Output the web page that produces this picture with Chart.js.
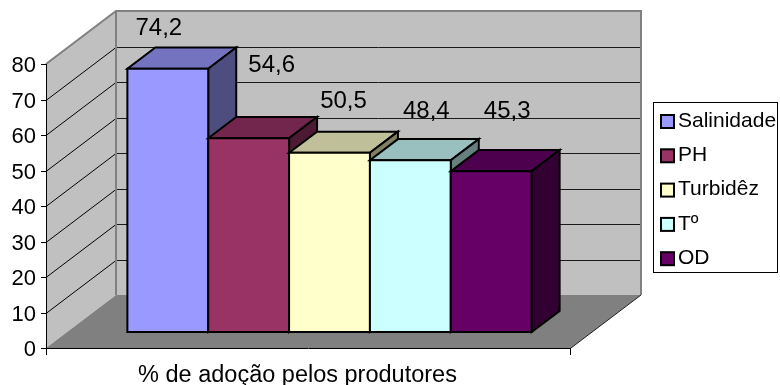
<!DOCTYPE html>
<html>
<head>
<meta charset="utf-8">
<script src="https://cdn.jsdelivr.net/npm/chart.js@4/dist/chart.umd.min.js"></script>
<style>
  html, body { margin: 0; padding: 0; background: #ffffff; }
  canvas { display: block; }
</style>
</head>
<body>
<canvas id="chart" width="780" height="385"></canvas>
<script>
// Data
const categories = ['% de adoção pelos produtores'];
const seriesNames = ['Salinidade', 'PH', 'Turbidêz', 'Tº', 'OD'];
const adoptionPct = [74.2, 54.6, 50.5, 48.4, 45.3];
const yTicks = [0, 10, 20, 30, 40, 50, 60, 70, 80];

// Styling
const seriesColors = ['#9999FF', '#993366', '#FFFFCC', '#CCFFFF', '#660066'];
const FONT = '"Liberation Sans", Arial, sans-serif';
const DEPTH = { x: 70, y: -53 };      // full depth of the floor in pixels
const BAR_FRONT = 0.3, BAR_BACK = 0.7; // bar position inside that depth
// hand placement of the value labels relative to each bar's top
const labelNudge = [[-9, -40], [23, -73], [14, -51], [16, -49], [16, -60]];

function shade(hex, f) {
  const n = parseInt(hex.slice(1), 16);
  const r = Math.round(((n >> 16) & 255) * f);
  const g = Math.round(((n >> 8) & 255) * f);
  const b = Math.round((n & 255) * f);
  return `rgb(${r},${g},${b})`;
}

function poly(ctx, pts, fill, stroke, lw) {
  ctx.beginPath();
  ctx.moveTo(pts[0][0], pts[0][1]);
  for (let i = 1; i < pts.length; i++) ctx.lineTo(pts[i][0], pts[i][1]);
  ctx.closePath();
  if (fill) { ctx.fillStyle = fill; ctx.fill(); }
  if (stroke) { ctx.strokeStyle = stroke; ctx.lineWidth = lw || 1; ctx.stroke(); }
}

function line(ctx, x1, y1, x2, y2, color, lw) {
  ctx.beginPath();
  ctx.moveTo(x1, y1);
  ctx.lineTo(x2, y2);
  ctx.strokeStyle = color;
  ctx.lineWidth = lw || 1;
  ctx.stroke();
}

// Draws the box scene (walls, floor, axes, 3D columns, labels, legend)
const scene3d = {
  id: 'scene3d',
  beforeDatasetsDraw(chart) {
    const { ctx, chartArea: a, scales } = chart;
    const ys = scales.y;
    const dx = DEPTH.x, dy = DEPTH.y;
    const y0 = ys.getPixelForValue(0);
    const yTop = ys.getPixelForValue(ys.max);
    ctx.save();
    ctx.lineJoin = 'miter';

    // side wall
    poly(ctx, [[a.left, y0], [a.left + dx, y0 + dy], [a.left + dx, yTop + dy], [a.left, yTop]], '#c0c0c0');
    // back wall
    poly(ctx, [[a.left + dx, yTop + dy], [a.right + dx, yTop + dy], [a.right + dx, y0 + dy], [a.left + dx, y0 + dy]], '#c0c0c0');
    // floor
    poly(ctx, [[a.left, y0], [a.right, y0], [a.right + dx, y0 + dy], [a.left + dx, y0 + dy]], '#808080');

    // gridlines on the walls
    yTicks.forEach(t => {
      if (t === 0 || t === ys.max) return;
      const yy = Math.round(ys.getPixelForValue(t)) + 0.5;
      line(ctx, a.left, yy, a.left + dx, yy + dy, '#000', 1);
      line(ctx, a.left + dx, yy + dy, a.right + dx, yy + dy, '#1a1a1a', 1);
    });

    // wall outlines
    ctx.strokeStyle = '#808080';
    ctx.lineWidth = 2;
    ctx.beginPath();
    ctx.moveTo(a.left, yTop);
    ctx.lineTo(a.left + dx, yTop + dy);
    ctx.lineTo(a.right + dx, yTop + dy);
    ctx.lineTo(a.right + dx, y0 + dy);
    ctx.moveTo(a.left + dx, yTop + dy);
    ctx.lineTo(a.left + dx, y0 + dy);
    ctx.stroke();
    line(ctx, a.right, y0, a.right + dx, y0 + dy, '#202020', 1);

    // axes
    line(ctx, a.left + 0.5, yTop, a.left + 0.5, y0 + 0.5, '#000', 1);
    line(ctx, a.left, y0 + 0.5, a.right, y0 + 0.5, '#000', 1);
    line(ctx, a.right - 0.5, y0, a.right - 0.5, y0 + 7, '#000', 1);
    line(ctx, a.left + 0.5, y0, a.left + 0.5, y0 + 7, '#000', 1);
    ctx.font = `22px ${FONT}`;
    ctx.fillStyle = '#000';
    ctx.textAlign = 'right';
    ctx.textBaseline = 'middle';
    yTicks.forEach(t => {
      const yy = Math.round(ys.getPixelForValue(t)) + 0.5;
      line(ctx, a.left - 5, yy, a.left, yy, '#000', 1);
      ctx.fillText(String(t), a.left - 10, yy + 1);
    });

    // 3D columns
    const fx = BAR_FRONT * dx, fy = BAR_FRONT * dy;
    const bx = (BAR_BACK - BAR_FRONT) * dx, by = (BAR_BACK - BAR_FRONT) * dy;
    const tops = [];
    chart.data.datasets.forEach((ds, i) => {
      const el = chart.getDatasetMeta(i).data[0];
      const p = el.getProps(['x', 'y', 'base', 'width'], true);
      const L = p.x - p.width / 2 + fx, R = p.x + p.width / 2 + fx;
      const T = p.y + fy, B = p.base + fy;
      const col = seriesColors[i];
      poly(ctx, [[L, T], [R, T], [R + bx, T + by], [L + bx, T + by]], shade(col, 0.75), '#000', 2);
      poly(ctx, [[R, T], [R + bx, T + by], [R + bx, B + by], [R, B]], shade(col, 0.5), '#000', 2);
      poly(ctx, [[L, T], [R, T], [R, B], [L, B]], col, '#000', 2);
      tops.push([(L + R) / 2, T]);
    });

    // value labels
    ctx.font = `24px ${FONT}`;
    ctx.textAlign = 'center';
    ctx.textBaseline = 'middle';
    ctx.fillStyle = '#000';
    adoptionPct.forEach((v, i) => {
      const [cx, ty] = tops[i];
      const txt = v.toFixed(1).replace('.', ',');
      ctx.fillText(txt, cx + labelNudge[i][0], ty + labelNudge[i][1]);
    });

    // category title under the axis
    ctx.font = `23.5px ${FONT}`;
    ctx.textAlign = 'center';
    ctx.textBaseline = 'alphabetic';
    ctx.fillText(categories[0], (a.left + a.right) / 2 - 11, y0 + 34);

    // legend
    const lg = { x: 653, y: 102, w: 124, h: 170, row: 34.3, first: 121 };
    ctx.fillStyle = '#fff';
    ctx.fillRect(lg.x, lg.y, lg.w, lg.h);
    ctx.strokeStyle = '#000';
    ctx.lineWidth = 1;
    ctx.strokeRect(lg.x + 0.5, lg.y + 0.5, lg.w, lg.h);
    ctx.font = `21px ${FONT}`;
    ctx.textAlign = 'left';
    ctx.textBaseline = 'middle';
    chart.data.datasets.forEach((ds, i) => {
      const cy = lg.first + i * lg.row;
      ctx.fillStyle = seriesColors[i];
      ctx.fillRect(lg.x + 8, cy - 6, 13, 13);
      ctx.strokeStyle = '#000';
      ctx.lineWidth = 2;
      ctx.strokeRect(lg.x + 8, cy - 6, 13, 13);
      ctx.fillStyle = '#000';
      ctx.fillText(ds.label, lg.x + 25, cy);
    });

    ctx.restore();
    return false; // columns are drawn above as boxes
  }
};

new Chart(document.getElementById('chart'), {
  type: 'bar',
  data: {
    labels: categories,
    datasets: seriesNames.map((name, i) => ({
      label: name,
      data: [adoptionPct[i]],
      backgroundColor: seriesColors[i],
      borderColor: '#000',
      borderWidth: 2
    }))
  },
  options: {
    responsive: false,
    animation: false,
    layout: { padding: { left: 46, right: 209, top: 64, bottom: 37 } },
    datasets: { bar: { categoryPercentage: 0.77, barPercentage: 1 } },
    scales: {
      x: { display: false, offset: true },
      y: { display: false, min: 0, max: 80, ticks: { stepSize: 10 } }
    },
    plugins: { legend: { display: false }, tooltip: { enabled: false } }
  },
  plugins: [scene3d]
});
</script>
</body>
</html>
